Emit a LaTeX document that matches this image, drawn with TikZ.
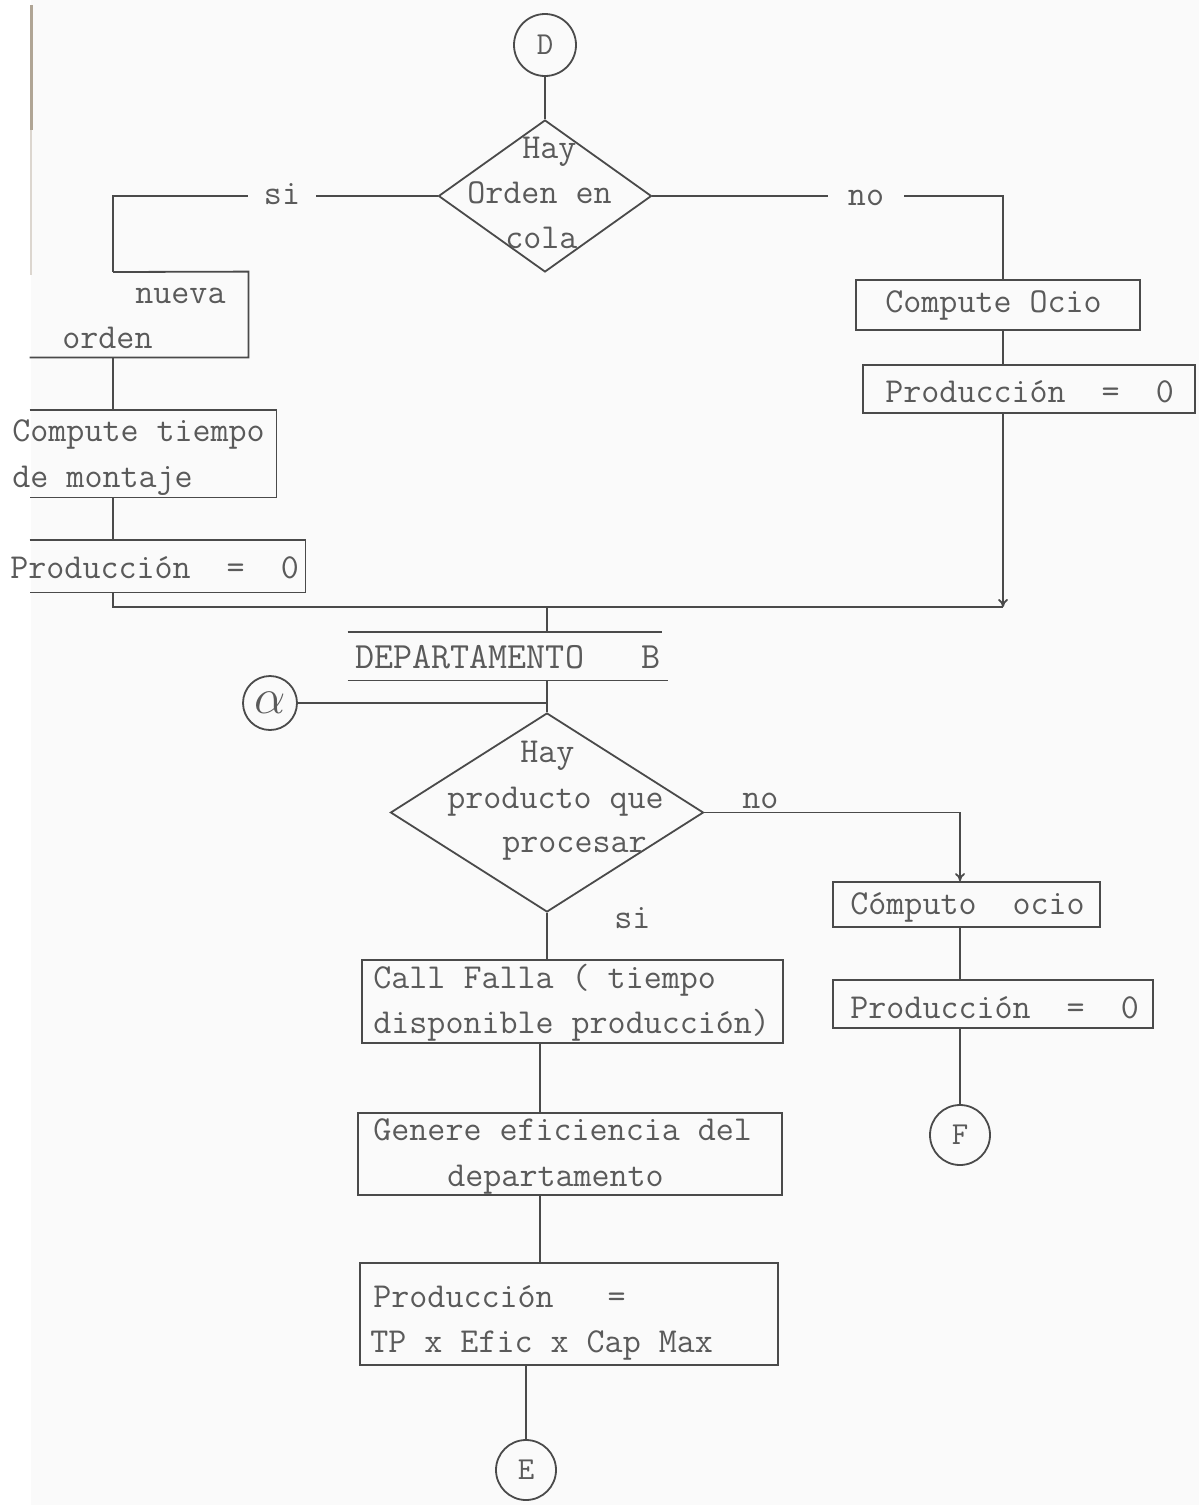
\documentclass[tikz,border=0pt]{standalone}
\usetikzlibrary{shapes.geometric,arrows.meta,calc}
\definecolor{ln}{HTML}{4A4A4A}
\definecolor{tx}{HTML}{5A5A5A}
\definecolor{paper}{HTML}{FAFAFA}
\definecolor{edgec}{HTML}{B0A595}
\begin{document}
\begin{tikzpicture}[x=0.5pt,y=-0.5pt,
  line/.style={draw=ln,line width=0.9pt},
  box/.style={draw=ln,line width=0.9pt,rectangle,inner sep=0pt},
  ghost/.style={rectangle,inner sep=0pt},
  dia/.style={diamond,draw=ln,line width=0.9pt,inner sep=0pt},
  conn/.style={circle,draw=ln,line width=0.9pt,inner sep=0pt,text=tx,font=\ttfamily\fontsize{16}{18}\selectfont},
  tt/.style={text=tx,font=\ttfamily\fontsize{17.5}{20}\selectfont,inner sep=0pt,anchor=base west},
  lab/.style={text=tx,font=\ttfamily\fontsize{17.5}{20}\selectfont,inner ysep=0pt},
  arr/.style={-{To[length=4pt,width=5pt]}}
]
\useasboundingbox (0,0) rectangle (1199,1505);
\fill[white] (0,0) rectangle (1199,1505);
\fill[paper] (31,0) rectangle (1199,1505);
\draw[edgec,line width=1.5pt] (31,5) -- (31,130);
\draw[edgec!45,line width=1pt] (31,130) -- (31,275);

% ---------- top part ----------
\node[conn,minimum size=31pt] (D) at (545,45) {D};
\node[dia,minimum width=106.5pt,minimum height=76pt] (d1) at (545,196) {};
\node[tt] (d1a) at (522,158) {Hay};
\node[tt] (d1b) at (467,203) {Orden~en};
\node[tt] (d1c) at (505,248) {cola};
\draw[line] (D) -- (d1);

\node[lab,inner xsep=8pt] (si1) at (282,194) {si};
\node[lab,inner xsep=10pt] (no1) at (866,198) {no};
\coordinate (xA) at (113,272);
\coordinate (xR) at (1003,280);

% left branch
\node[ghost,minimum width=109pt,minimum height=42.5pt] (nA) at (139,314.5) {};
\node[tt] at (135,303) {nueva};
\node[tt] at (62,348) {orden};
\draw[line] (nA.south west) -- (nA.south east) -- (nA.north east) -- (xA);
\draw[line] (d1.west) -- (d1.west -| si1.east);
\draw[line] (si1.west |- d1.west) -| (xA);

\node[ghost,minimum width=123pt,minimum height=43.5pt] (nB) at (153,453.5) {};
\node[tt] at (12,441) {Compute~tiempo};
\node[tt] at (12,487) {de~montaje};
\draw[line] (nB.north west) -- (nB.north east) -- (nB.south east) -- (nB.south west);
\draw[line] (nA.south -| xA) -- (nB.north -| xA);

\node[ghost,minimum width=137.5pt,minimum height=26pt] (nC) at (167.5,566) {};
\node[tt] at (10,578) {Producción~~=~~0};
\draw[line] (nC.north west) -- (nC.north east) -- (nC.south east) -- (nC.south west);
\draw[line] (nB.south -| xA) -- (nC.north -| xA);

% right branch
\node[box,minimum width=142pt,minimum height=25pt] (r1) at (998,305) {};
\node[tt] at (885,312) {Compute~Ocio};
\node[box,minimum width=166pt,minimum height=24pt] (r2) at (1029,389) {};
\node[tt] at (885,402) {Producción~~=~~0};
\draw[line] (d1.east) -- (d1.east -| no1.west);
\draw[line] (no1.east |- d1.east) -| (r1.north -| xR);
\draw[line] (r1.south -| xR) -- (r2.north -| xR);

% merge
\coordinate (m1) at (113,607);
\coordinate (m2) at (1003,607);
\coordinate (m0) at (547,607);
\draw[line] (nC.south -| m1) -- (m1) -- (m2);
\draw[line,arr] (r2.south -| m2) -- (m2);

% ---------- departamento B ----------
\node[ghost,minimum width=157pt,minimum height=24pt] (dept) at (505,656) {};
\draw[line] (dept.north west) -- (dept.north east);
\draw[line] (dept.south west) -- ([xshift=3pt]dept.south east);
\node[tt,font=\ttfamily\fontsize{18.5}{20}\selectfont] at (355,668) {DEPARTAMENTO~~~B};
\draw[line] (m0) -- (dept.north -| m0);

\node[conn,minimum size=27pt,font=\fontsize{24}{26}\selectfont] (al) at (270,703) {$\alpha$};
\node[dia,minimum width=156.5pt,minimum height=99.5pt] (d2) at (547,812.5) {};
\node[tt] at (520,762) {Hay};
\node[tt] at (447,808) {producto~que};
\node[tt] at (502,852) {procesar};
\draw[line] (dept.south -| m0) -- (d2.north);
\draw[line] (al.east) -- (al.east -| d2.north);

% no branch
\node[tt] at (742,808) {no};
\node[box,minimum width=133.5pt,minimum height=22.5pt] (q1) at (966.5,904.5) {};
\node[tt] at (850,914) {Cómputo~~ocio};
\node[box,minimum width=160pt,minimum height=24pt] (q2) at (993,1004) {};
\node[tt] at (850,1018) {Producción~~=~~0};
\node[conn,minimum size=30pt] (F) at (960,1135) {F};
\draw[line,arr] (d2.east) -| (F.north |- q1.north);
\draw[line] (F.north |- q1.south) -- (F.north |- q2.north);
\draw[line] (F.north |- q2.south) -- (F.north);

% si branch
\node[tt] at (614,928) {si};
\coordinate (sp) at (540,0);
\node[box,minimum width=210.5pt,minimum height=41.5pt] (cf) at (572.5,1001.5) {};
\node[tt] at (373,988) {Call~Falla~(~tiempo};
\node[tt] at (373,1033) {disponible~producción)};
\node[box,minimum width=212pt,minimum height=41pt] (ge) at (570,1154) {};
\node[tt] at (373,1140) {Genere~eficiencia~del};
\node[tt] at (447,1186) {departamento};
\node[box,minimum width=209pt,minimum height=51pt] (tp) at (569,1314) {};
\node[tt] at (373,1307) {Producción~~~=};
\node[tt] at (370,1352) {TP~x~Efic~x~Cap~Max};
\node[conn,minimum size=30pt] (E) at (526,1470) {E};
\draw[line] (d2.south) -- (cf.north -| d2.south);
\draw[line] (cf.south -| sp) -- (ge.north -| sp);
\draw[line] (ge.south -| sp) -- (tp.north -| sp);
\draw[line] (tp.south -| E.north) -- (E.north);
\end{tikzpicture}
\end{document}
